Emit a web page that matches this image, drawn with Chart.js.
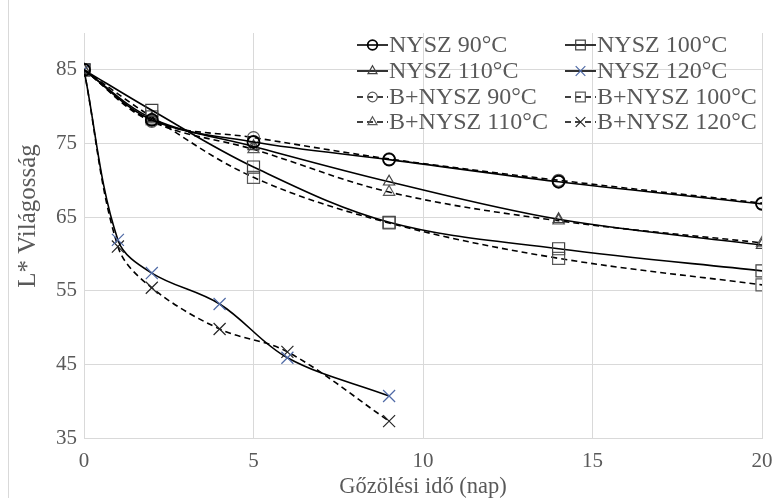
<!DOCTYPE html>
<html>
<head>
<meta charset="utf-8">
<script src="https://cdn.jsdelivr.net/npm/chart.js@4.4.0/dist/chart.umd.min.js"></script>
<style>
  html, body { margin: 0; padding: 0; background: #fff; }
  #wrap { width: 776px; height: 498px; }
</style>
</head>
<body>
<div id="wrap"><canvas id="chart" width="776" height="498"></canvas></div>
<script>
// steaming days (x) and L* lightness values
const daysLong = [0, 2, 5, 9, 14, 20];
const days120 = [0, 1, 2, 4, 6, 9];

const nysz90 = [85, 78.2, 75.2, 72.8, 69.8, 66.8];
const nysz100 = [85, 79.5, 71.8, 64.3, 60.7, 57.7];
const nysz110 = [85, 78.4, 74.6, 69.8, 64.7, 61.2];
const nysz120 = [85, 61.9, 57.4, 53.2, 45.9, 40.7];
const bNysz90 = [85, 78.0, 75.8, 72.9, 70.0, 66.9];
const bNysz100 = [85, 78.6, 70.4, 64.2, 59.4, 55.8];
const bNysz110 = [85, 78.0, 74.2, 68.4, 64.5, 61.5];
const bNysz120 = [85, 61.0, 55.4, 49.8, 46.7, 37.3];

const yTicks = [35, 45, 55, 65, 75, 85];
const yTitle = "L* Világosság";

const textGray = "#595959";
const gridGray = "#d9d9d9";
const serif = "'Liberation Serif', 'DejaVu Serif', serif";

function pts(xs, ys) {
  return ys.map((y, i) => ({ x: xs[i], y: y }));
}

function series(label, xs, ys, style, radius, markerColor, dashed, markerWidth) {
  return {
    label: label,
    data: pts(xs, ys),
    borderColor: "#000",
    borderWidth: 1.6,
    borderDash: dashed ? [6, 4] : [],
    tension: 0.35,
    fill: false,
    pointStyle: style,
    pointRadius: radius,
    pointBorderColor: markerColor,
    pointBackgroundColor: "rgba(0,0,0,0)",
    pointBorderWidth: markerWidth || 1.2,
  };
}

// same order as the legend, row by row (two columns)
const datasets = [
  series("NYSZ 90°C", daysLong, nysz90, "circle", 6, "#000", false, 1.8),
  series("NYSZ 100°C", daysLong, nysz100, "rect", 8.5, "#404040", false),
  series("NYSZ 110°C", daysLong, nysz110, "triangle", 6.5, "#404040", false),
  series("NYSZ 120°C", days120, nysz120, "crossRot", 8.5, "#4f6aa6", false),
  series("B+NYSZ 90°C", daysLong, bNysz90, "circle", 6, "#595959", true),
  series("B+NYSZ 100°C", daysLong, bNysz100, "rect", 8.5, "#595959", true),
  series("B+NYSZ 110°C", daysLong, bNysz110, "triangle", 6.5, "#595959", true),
  series("B+NYSZ 120°C", days120, bNysz120, "crossRot", 8.5, "#262626", true),
];

// excel style legend: short line with the marker in the middle, 2 columns
// plus the y axis title, which sits a bit above the plot centre
const legendPlugin = {
  id: "excelLegend",
  afterDraw(chart) {
    const ctx = chart.ctx;
    const cols = [357, 565];
    const rows = [45, 71, 97, 122];
    chart.data.datasets.forEach((ds, i) => {
      const x = cols[i % 2];
      const y = rows[Math.floor(i / 2)];
      ctx.save();
      ctx.strokeStyle = ds.borderColor;
      ctx.lineWidth = ds.borderWidth;
      ctx.setLineDash(ds.borderDash);
      ctx.beginPath();
      ctx.moveTo(x, y);
      ctx.lineTo(x + 31, y);
      ctx.stroke();
      ctx.setLineDash([]);
      ctx.strokeStyle = ds.pointBorderColor;
      ctx.fillStyle = "rgba(0,0,0,0)";
      ctx.lineWidth = ds.pointBorderWidth;
      Chart.helpers.drawPoint(ctx, {
        pointStyle: ds.pointStyle,
        radius: ds.pointRadius * 0.8,
        rotation: 0,
        borderWidth: ds.pointBorderWidth,
      }, x + 15.5, y);
      ctx.fillStyle = textGray;
      ctx.font = "24px " + serif;
      ctx.textBaseline = "middle";
      ctx.textAlign = "left";
      ctx.fillText(ds.label, x + 32, y + 1);
      ctx.restore();
    });

    ctx.save();
    ctx.translate(28, 216);
    ctx.rotate(-Math.PI / 2);
    ctx.fillStyle = textGray;
    ctx.font = "25px " + serif;
    ctx.textAlign = "center";
    ctx.textBaseline = "middle";
    ctx.fillText(yTitle, 0, 0);
    ctx.restore();

    // chart area frame, only its left side is inside the picture
    ctx.save();
    ctx.strokeStyle = gridGray;
    ctx.lineWidth = 1;
    ctx.beginPath();
    ctx.moveTo(8.5, 0);
    ctx.lineTo(8.5, chart.height);
    ctx.stroke();
    ctx.restore();
  },
};

new Chart(document.getElementById("chart"), {
  type: "line",
  data: { datasets: datasets },
  plugins: [legendPlugin],
  options: {
    responsive: false,
    animation: false,
    devicePixelRatio: 1,
    layout: { padding: { top: 33, right: 14, left: 0, bottom: 0 } },
    plugins: {
      legend: { display: false },
      tooltip: { enabled: false },
    },
    scales: {
      x: {
        type: "linear",
        min: 0,
        max: 20,
        ticks: {
          stepSize: 5,
          color: textGray,
          padding: 11,
          font: { family: serif, size: 21 },
        },
        grid: { color: gridGray, drawTicks: false },
        border: { color: gridGray },
        title: {
          display: true,
          text: "Gőzölési idő (nap)",
          color: textGray,
          font: { family: serif, size: 22.5, lineHeight: 1.0 },
          padding: { top: 0, bottom: 0 },
        },
        afterFit(scale) {
          scale.height = 60;
          scale.paddingRight = 0;
          scale.paddingLeft = 0;
        },
      },
      y: {
        type: "linear",
        min: 35,
        max: 90,
        afterBuildTicks(scale) {
          scale.ticks = yTicks.map((v) => ({ value: v }));
        },
        ticks: {
          color: textGray,
          padding: 7,
          font: { family: serif, size: 21 },
        },
        grid: { color: gridGray, drawTicks: false },
        border: { color: gridGray },
        afterFit(scale) {
          scale.width = 84;
          scale.paddingTop = 0;
          scale.paddingBottom = 0;
        },
      },
    },
  },
});
</script>
</body>
</html>
